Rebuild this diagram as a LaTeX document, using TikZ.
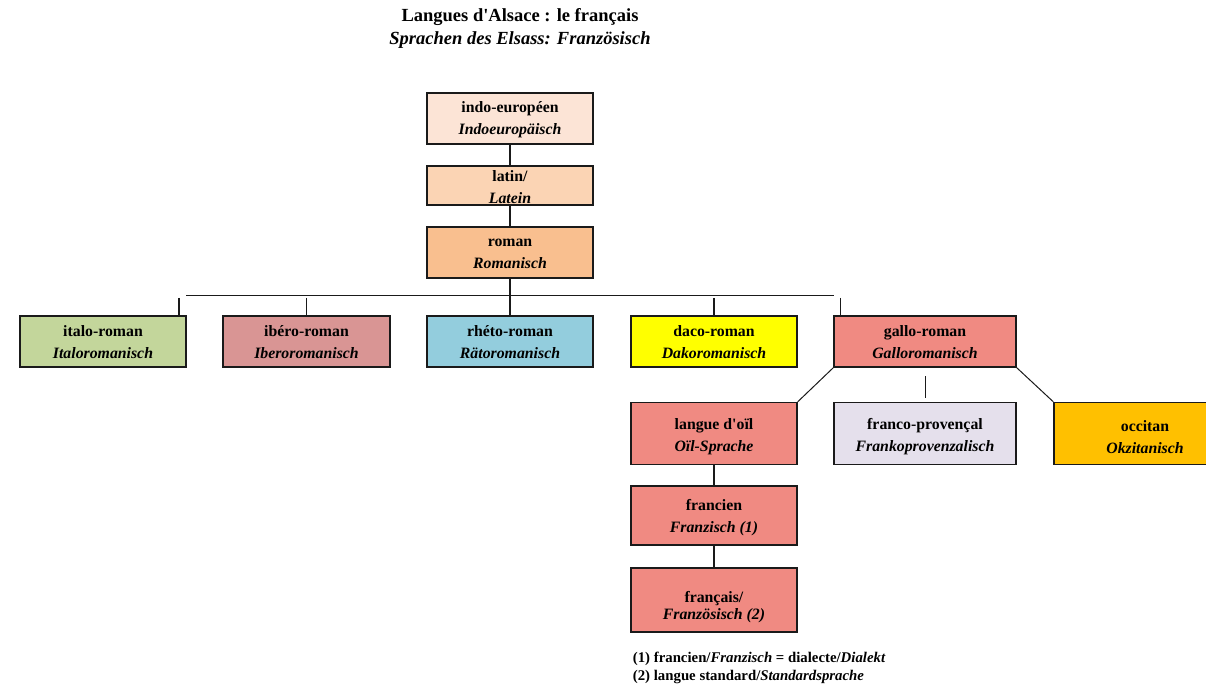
\documentclass[tikz,border=0pt]{standalone}
\usepackage{fontspec}
\setmainfont{Liberation Serif}
\usetikzlibrary{calc}
\definecolor{cIndo}{HTML}{FCE4D6}
\definecolor{cLat}{HTML}{FBD4B4}
\definecolor{cRom}{HTML}{F9BF8F}
\definecolor{cIta}{HTML}{C3D69B}
\definecolor{cIbe}{HTML}{D99594}
\definecolor{cRhe}{HTML}{93CDDD}
\definecolor{cDac}{HTML}{FFFF00}
\definecolor{cGal}{HTML}{F08A82}
\definecolor{cFra}{HTML}{E5E0EC}
\definecolor{cOcc}{HTML}{FFC000}
\definecolor{cLine}{HTML}{1A1A1A}
\newcommand{\bxt}[2]{\textbf{#1}\\\textbf{\textit{#2}}}
\newcommand{\apo}{\textquotesingle}
\tikzset{
  langbox/.style={draw=cLine, line width=1.4pt, minimum width=166pt, minimum height=51pt,
    inner sep=0pt},
  boxtext/.style={inner sep=0pt, align=center, font=\fontsize{15.8}{22}\selectfont},
  conn/.style={draw=cLine, line width=1.4pt},
  titletext/.style={anchor=base, inner sep=0pt, font=\fontsize{18.5}{22}\selectfont\bfseries},
  notetext/.style={anchor=base west, inner sep=0pt, font=\fontsize{14.8}{17}\selectfont\bfseries}
}
\begin{document}
\begin{tikzpicture}[x=1pt,y=-1pt]
\useasboundingbox (0,0) rectangle (1206,685);
\clip (0,0) rectangle (1206,685);
% title
\node[titletext] (t1) at (520,21.7) {Langues d\apo Alsace : le français};
\node[titletext] (t2) at (520,45) {\textit{Sprachen des Elsass: Französisch}};
% boxes
\node[langbox, fill=cIndo] (indo) at (510,118.5) {};
\node[boxtext] (indot) at (510,119.5) {\bxt{indo-européen}{Indoeuropäisch}};
\node[langbox, fill=cLat, minimum height=39pt] (lat) at (510,185.5) {};
\node[boxtext] (latt) at (510,187) {\bxt{latin/}{Latein}};
\node[langbox, fill=cRom] (rom) at (510,252.5) {};
\node[boxtext] (romt) at (510,253.5) {\bxt{roman}{Romanisch}};
\node[langbox, fill=cIta] (ita) at (103,341.5) {};
\node[boxtext] (itat) at (103,342) {\bxt{italo-roman}{Italoromanisch}};
\node[langbox, fill=cIbe, minimum width=167pt] (ibe) at (306.5,341.5) {};
\node[boxtext] (ibet) at (306.5,342) {\bxt{ibéro-roman}{Iberoromanisch}};
\node[langbox, fill=cRhe] (rhe) at (510,341.5) {};
\node[boxtext] (rhet) at (510,342) {\bxt{rhéto-roman}{Rätoromanisch}};
\node[langbox, fill=cDac] (dac) at (714,341.5) {};
\node[boxtext] (dact) at (714,342) {\bxt{daco-roman}{Dakoromanisch}};
\node[langbox, fill=cGal, minimum width=182pt] (gal) at (925,341.5) {};
\node[boxtext] (galt) at (925,342) {\bxt{gallo-roman}{Galloromanisch}};
\node[langbox, fill=cGal, minimum height=62pt] (oil) at (714,433.5) {};
\node[boxtext] (oilt) at (714,437) {\bxt{langue d\apo oïl}{Oïl-Sprache}};
\node[langbox, fill=cFra, minimum width=182pt, minimum height=62pt] (fpr) at (925,433.5) {};
\node[boxtext] (fprt) at (925,437) {\bxt{franco-provençal}{Frankoprovenzalisch}};
\node[langbox, fill=cOcc, minimum width=182pt, minimum height=62pt] (occ) at (1145,433.5) {};
\node[boxtext] (occt) at (1145,437) {\bxt{occitan}{Okzitanisch}};
\node[langbox, fill=cGal, minimum height=59pt] (frc) at (714,515.5) {};
\node[boxtext] (frct) at (714,517.5) {\bxt{francien}{Franzisch (1)}};
\node[langbox, fill=cGal, minimum height=64pt] (frs) at (714,600) {};
\node[boxtext, font=\fontsize{15.8}{16.5}\selectfont] (frst) at (714,607) {\bxt{français/}{Französisch (2)}};
% free ends of connectors
\coordinate (hl) at (186,295.3);
\coordinate (hr) at (834,295.3);
\coordinate (dropy) at (0,297.8);
\coordinate (itax) at (179,0);
\coordinate (galx) at (840.7,0);
\coordinate (mtop) at (925.7,376);
\coordinate (mbot) at (925.7,397.7);
% connectors
\draw[conn] (indo.south) -- (lat.north);
\draw[conn] (lat.south) -- (rom.north);
\draw[conn] (rom.south) -- (rom.south |- hl);
\draw[conn] (hl) -- (hr);
\draw[conn] (itax |- dropy) -- (itax |- ita.north);
\draw[conn] (ibe.north |- dropy) -- (ibe.north);
\draw[conn] (rhe.north |- hl) -- (rhe.north);
\draw[conn] (dac.north |- dropy) -- (dac.north);
\draw[conn] (galx |- dropy) -- (galx |- gal.north);
\draw[conn, line width=1pt] (gal.south west) -- (oil.north east);
\draw[conn, line width=1pt] (gal.south east) -- (occ.north west);
\draw[conn] (mtop) -- (mbot);
\draw[conn] (oil.south) -- (frc.north);
\draw[conn] (frc.south) -- (frs.north);
% footnotes
\node[notetext] (n1) at (632.7,662.7) {(1) francien/\textit{Franzisch} = dialecte/\textit{Dialekt}};
\node[notetext] (n2) at (632.7,680) {(2) langue standard/\textit{Standardsprache}};
\end{tikzpicture}
\end{document}
